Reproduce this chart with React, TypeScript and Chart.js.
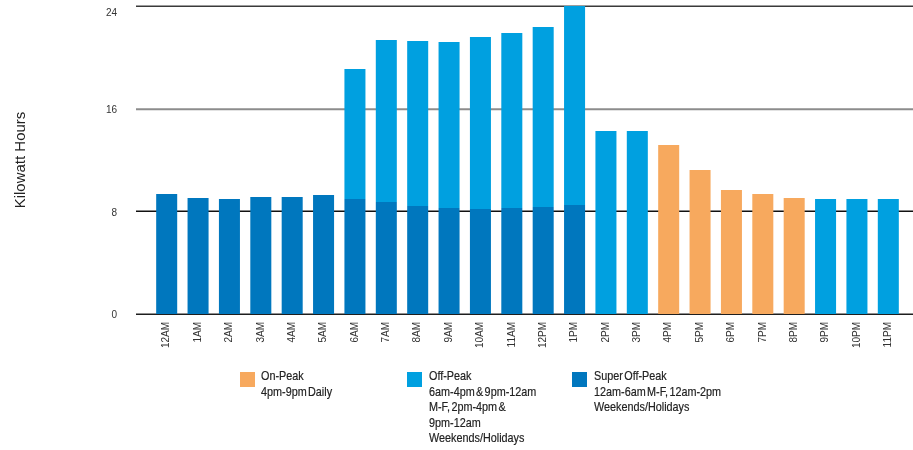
import React, { useEffect, useRef } from "react";
import { Chart, registerables } from "chart.js";

Chart.register(...registerables);

const hours = [
  "12AM", "1AM", "2AM", "3AM", "4AM", "5AM", "6AM", "7AM", "8AM", "9AM", "10AM", "11AM",
  "12PM", "1PM", "2PM", "3PM", "4PM", "5PM", "6PM", "7PM", "8PM", "9PM", "10PM", "11PM",
];

const superOffPeak = [
  9.35, 9.04, 8.96, 9.12, 9.12, 9.27, 8.96, 8.73, 8.42, 8.26, 8.18, 8.26,
  8.34, 8.49, null, null, null, null, null, null, null, null, null, null,
];

const offPeak = [
  null, null, null, null, null, null, 10.13, 12.62, 12.85, 12.94, 13.4, 13.64,
  14.02, 15.51, 14.26, 14.26, null, null, null, null, null, 8.96, 8.96, 8.96,
];

const onPeak = [
  null, null, null, null, null, null, null, null, null, null, null, null,
  null, null, null, null, 13.17, 11.22, 9.66, 9.35, 9.04, null, null, null,
];

const yTicks = [0, 8, 16, 24];

const COLORS = {
  onPeak: "#F7A95E",
  offPeak: "#00A0E0",
  superOffPeak: "#0077BE",
};

const legendItems = [
  { color: COLORS.onPeak, left: 240, textLeft: 261, lines: ["On-Peak", "4pm-9pm Daily"] },
  {
    color: COLORS.offPeak,
    left: 407,
    textLeft: 429,
    lines: ["Off-Peak", "6am-4pm & 9pm-12am", "M-F, 2pm-4pm &", "9pm-12am", "Weekends/Holidays"],
  },
  {
    color: COLORS.superOffPeak,
    left: 572,
    textLeft: 594,
    lines: ["Super Off-Peak", "12am-6am M-F, 12am-2pm", "Weekends/Holidays"],
  },
];

const gridStyles: Record<number, [string, number]> = {
  0: ["#1e1e1e", 1.5],
  8: ["#111111", 1.5],
  16: ["#8c8c8c", 2],
  24: ["#3a3a3a", 1.5],
};

const gridPlugin = {
  id: "customGrid",
  beforeDatasetsDraw(chart: any) {
    const { ctx, chartArea, scales } = chart;
    const y = scales.y;
    ctx.save();
    for (const t of yTicks) {
      const [color, lw] = gridStyles[t] || ["#333", 1];
      const py = Math.round(y.getPixelForValue(t)) + 0.25;
      ctx.strokeStyle = color;
      ctx.lineWidth = lw;
      ctx.beginPath();
      ctx.moveTo(chartArea.left - 15, py);
      ctx.lineTo(chartArea.right + 9, py);
      ctx.stroke();
    }
    ctx.restore();
  },
  afterDraw(chart: any) {
    const { ctx, chartArea, scales } = chart;
    const y = scales.y;
    ctx.save();
    ctx.fillStyle = "#333";
    ctx.font = "10px 'Liberation Sans', Arial, sans-serif";
    ctx.textAlign = "right";
    ctx.textBaseline = "middle";
    for (const t of yTicks) {
      const py = Math.max(y.getPixelForValue(t) + 1.5, 13);
      ctx.fillText(String(t), chartArea.left - 34, py);
    }
    ctx.restore();
  },
};

export default function App() {
  const canvasRef = useRef<HTMLCanvasElement | null>(null);

  useEffect(() => {
    if (!canvasRef.current) return;
    const chart = new Chart(canvasRef.current, {
      type: "bar",
      data: {
        labels: hours,
        datasets: [
          {
            label: "Super Off-Peak",
            data: superOffPeak,
            backgroundColor: COLORS.superOffPeak,
            barPercentage: 0.67,
            categoryPercentage: 1,
          },
          {
            label: "Off-Peak",
            data: offPeak,
            backgroundColor: COLORS.offPeak,
            barPercentage: 0.67,
            categoryPercentage: 1,
          },
          {
            label: "On-Peak",
            data: onPeak,
            backgroundColor: COLORS.onPeak,
            barPercentage: 0.67,
            categoryPercentage: 1,
          },
        ],
      },
      options: {
        responsive: false,
        animation: false,
        layout: { padding: { top: 6, right: 9, left: 0, bottom: 0 } },
        plugins: {
          legend: { display: false },
          tooltip: { enabled: false },
        },
        scales: {
          x: {
            stacked: true,
            grid: { display: false, drawTicks: false, tickLength: 0 },
            border: { display: false },
            ticks: {
              minRotation: 90,
              maxRotation: 90,
              autoSkip: false,
              padding: 8,
              color: "#333",
              font: { family: "'Liberation Sans', Arial, sans-serif", size: 10 },
            },
            afterFit: (s: any) => {
              s.height = 136;
            },
          },
          y: {
            stacked: true,
            min: 0,
            max: 24,
            grid: { display: false, drawTicks: false, tickLength: 0 },
            border: { display: false },
            ticks: {
              stepSize: 8,
              padding: 34,
              display: false,
            },
            title: {
              display: true,
              text: "Kilowatt Hours",
              color: "#222",
              padding: { top: 12, bottom: 0 },
              font: { family: "'Liberation Sans', Arial, sans-serif", size: 15 },
            },
            afterFit: (s: any) => {
              s.width = 151;
              s.paddingTop = 0;
              s.paddingBottom = 0;
            },
          },
        },
      },
      plugins: [gridPlugin],
    });
    return () => chart.destroy();
  }, []);

  return (
    <div
      style={{
        position: "fixed",
        left: 0,
        top: 0,
        width: 913,
        height: 450,
        background: "#fff",
        overflow: "hidden",
      }}
    >
      <canvas ref={canvasRef} width={913} height={450} style={{ display: "block", width: 913, height: 450 }} />
      {legendItems.map((item) => (
        <React.Fragment key={item.lines[0]}>
          <div
            style={{
              position: "absolute",
              left: item.left,
              top: 372,
              width: 15,
              height: 15,
              background: item.color,
            }}
          />
          <div
            style={{
              position: "absolute",
              left: item.textLeft,
              top: 368,
              fontFamily: "'Liberation Sans Narrow', 'Liberation Sans', Arial, sans-serif",
              fontSize: 13.2,
              lineHeight: "15.5px",
              color: "#222",
              wordSpacing: -2,
              whiteSpace: "nowrap",
              transform: "scaleX(0.82)",
              transformOrigin: "0 0",
              WebkitTextStroke: "0.2px #222",
            }}
          >
            {item.lines.map((l) => (
              <div key={l}>{l}</div>
            ))}
          </div>
        </React.Fragment>
      ))}
    </div>
  );
}
